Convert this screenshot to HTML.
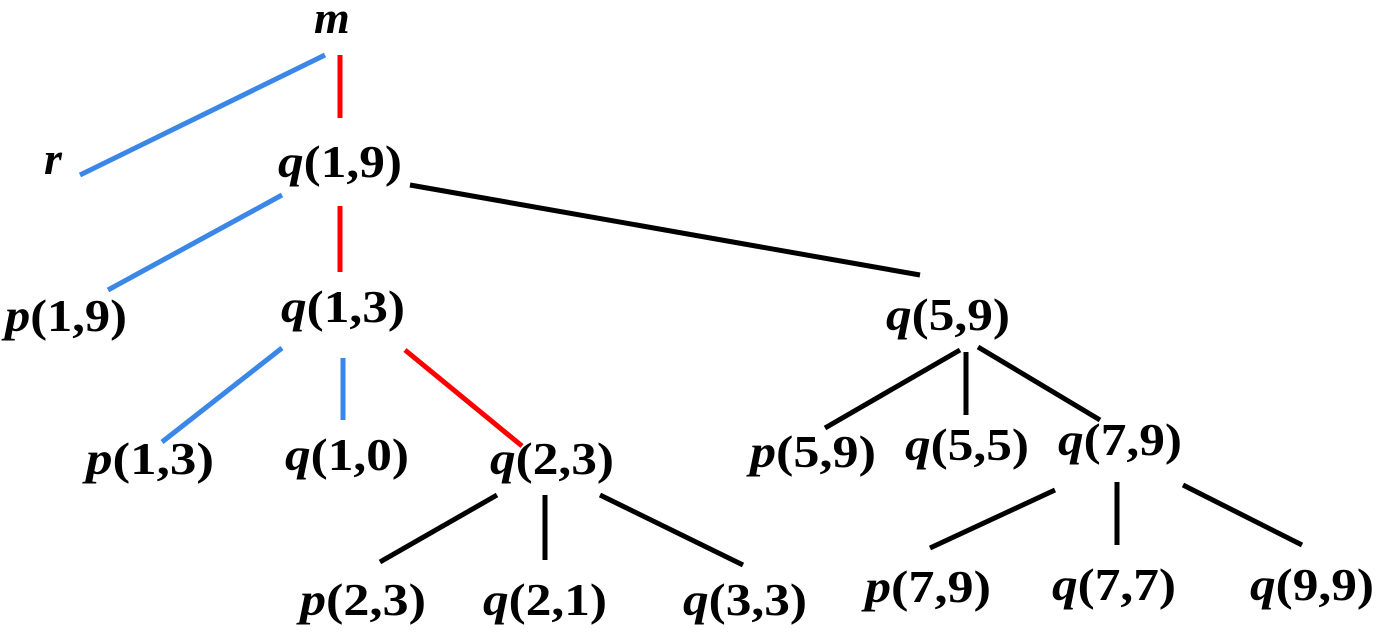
<!DOCTYPE html>
<html><head><meta charset="utf-8"><style>
html,body{margin:0;padding:0;background:#fff;}
svg{display:block;}
text{font-family:"Liberation Serif","Times New Roman",Times,serif;font-weight:700;font-size:46px;fill:#000;}
</style></head><body>
<svg width="1379" height="633" viewBox="0 0 1379 633" xmlns="http://www.w3.org/2000/svg">
<g stroke-width="5" fill="none">
<line x1="325" y1="55" x2="80" y2="175" stroke="#3a87e8"/>
<line x1="340" y1="55" x2="340" y2="118" stroke="#f00"/>
<line x1="282" y1="195" x2="108" y2="290" stroke="#3a87e8"/>
<line x1="340" y1="206" x2="340" y2="272" stroke="#f00"/>
<line x1="410" y1="185" x2="920" y2="275" stroke="#000"/>
<line x1="282" y1="348" x2="162" y2="442" stroke="#3a87e8"/>
<line x1="343" y1="358" x2="343" y2="420" stroke="#3a87e8"/>
<line x1="405" y1="350" x2="522" y2="446" stroke="#f00"/>
<line x1="960" y1="350" x2="825" y2="428" stroke="#000"/>
<line x1="966" y1="352" x2="966" y2="415" stroke="#000"/>
<line x1="978" y1="347" x2="1100" y2="420" stroke="#000"/>
<line x1="497" y1="495" x2="380" y2="562" stroke="#000"/>
<line x1="545" y1="495" x2="545" y2="560" stroke="#000"/>
<line x1="600" y1="495" x2="743" y2="565" stroke="#000"/>
<line x1="1055" y1="490" x2="930" y2="548" stroke="#000"/>
<line x1="1117" y1="482" x2="1117" y2="545" stroke="#000"/>
<line x1="1183" y1="485" x2="1302" y2="545" stroke="#000"/>
</g>
<text x="314" y="33" font-style="italic">m</text>
<text x="44" y="174" font-style="italic">r</text>
<text x="278" y="177" textLength="124" lengthAdjust="spacingAndGlyphs"><tspan font-style="italic">q</tspan>(1,9)</text>
<text x="5" y="331" textLength="122" lengthAdjust="spacingAndGlyphs"><tspan font-style="italic">p</tspan>(1,9)</text>
<text x="281" y="322" textLength="124" lengthAdjust="spacingAndGlyphs"><tspan font-style="italic">q</tspan>(1,3)</text>
<text x="886" y="330" textLength="124" lengthAdjust="spacingAndGlyphs"><tspan font-style="italic">q</tspan>(5,9)</text>
<text x="86" y="474" textLength="128" lengthAdjust="spacingAndGlyphs"><tspan font-style="italic">p</tspan>(1,3)</text>
<text x="285" y="470" textLength="124" lengthAdjust="spacingAndGlyphs"><tspan font-style="italic">q</tspan>(1,0)</text>
<text x="490" y="474" textLength="124" lengthAdjust="spacingAndGlyphs"><tspan font-style="italic">q</tspan>(2,3)</text>
<text x="750" y="467" textLength="126" lengthAdjust="spacingAndGlyphs"><tspan font-style="italic">p</tspan>(5,9)</text>
<text x="905" y="460" textLength="124" lengthAdjust="spacingAndGlyphs"><tspan font-style="italic">q</tspan>(5,5)</text>
<text x="1058" y="455" textLength="124" lengthAdjust="spacingAndGlyphs"><tspan font-style="italic">q</tspan>(7,9)</text>
<text x="300" y="615" textLength="126" lengthAdjust="spacingAndGlyphs"><tspan font-style="italic">p</tspan>(2,3)</text>
<text x="483" y="615" textLength="124" lengthAdjust="spacingAndGlyphs"><tspan font-style="italic">q</tspan>(2,1)</text>
<text x="683" y="615" textLength="124" lengthAdjust="spacingAndGlyphs"><tspan font-style="italic">q</tspan>(3,3)</text>
<text x="865" y="602" textLength="126" lengthAdjust="spacingAndGlyphs"><tspan font-style="italic">p</tspan>(7,9)</text>
<text x="1052" y="600" textLength="124" lengthAdjust="spacingAndGlyphs"><tspan font-style="italic">q</tspan>(7,7)</text>
<text x="1250" y="600" textLength="124" lengthAdjust="spacingAndGlyphs"><tspan font-style="italic">q</tspan>(9,9)</text>
</svg>
</body></html>
